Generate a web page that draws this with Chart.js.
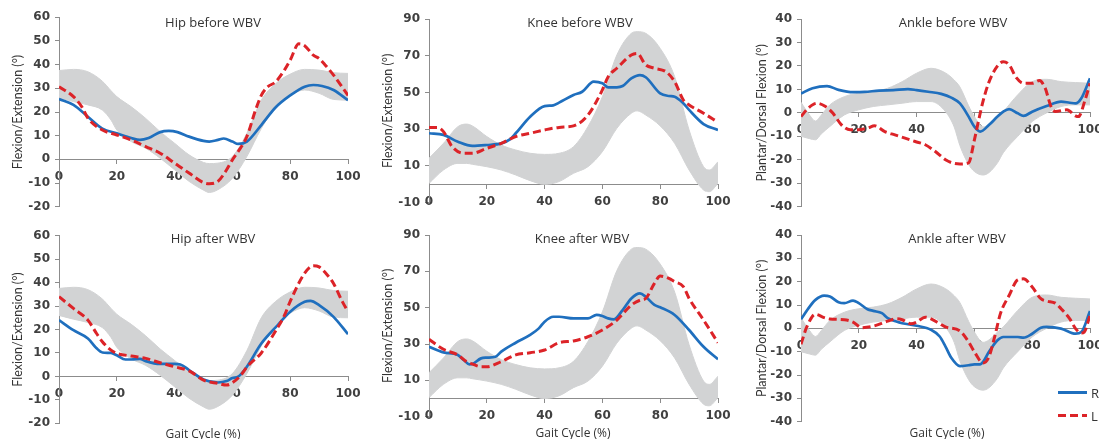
<!DOCTYPE html>
<html>
<head>
<meta charset="utf-8">
<script src="https://cdn.jsdelivr.net/npm/chart.js@4.4.1/dist/chart.umd.min.js"></script>
<style>
  html, body { margin: 0; padding: 0; background: #fff; width: 1099px; height: 439px; overflow: hidden; }
  body { position: relative; font-family: "Open Sans", sans-serif; color: #333; }
  canvas { position: absolute; }
  .lbl { position: absolute; white-space: nowrap; transform: translate(-50%, -50%); }
  .ttl { font-size: 13px; }
  .xt { font-size: 12px; }
  .leg { position: absolute; font-size: 13px; transform: translateY(-50%); }
</style>
</head>
<body>
<canvas id="hipBefore" width="370" height="220" style="left:0;top:0"></canvas>
<canvas id="kneeBefore" width="370" height="220" style="left:370px;top:0"></canvas>
<canvas id="ankleBefore" width="390" height="220" style="left:740px;top:0"></canvas>
<canvas id="hipAfter" width="370" height="219" style="left:0;top:220px"></canvas>
<canvas id="kneeAfter" width="370" height="219" style="left:370px;top:220px"></canvas>
<canvas id="ankleAfter" width="390" height="219" style="left:740px;top:220px"></canvas>

<div class="lbl ttl" style="left:213px;top:22px">Hip before WBV</div>
<div class="lbl ttl" style="left:580px;top:22px">Knee before WBV</div>
<div class="lbl ttl" style="left:953px;top:22px">Ankle before WBV</div>
<div class="lbl ttl" style="left:213px;top:238px">Hip after WBV</div>
<div class="lbl ttl" style="left:582px;top:238px">Knee after WBV</div>
<div class="lbl ttl" style="left:957px;top:238px">Ankle after WBV</div>
<div class="lbl xt" style="left:203px;top:433px">Gait Cycle (%)</div>
<div class="lbl xt" style="left:573px;top:432px">Gait Cycle (%)</div>
<div class="lbl xt" style="left:947px;top:432px">Gait Cycle (%)</div>

<svg style="position:absolute;left:1056px;top:385px" width="34" height="40">
  <line x1="2" y1="7.5" x2="31" y2="7.5" stroke="#1f6fbe" stroke-width="3"/>
  <line x1="2" y1="30.5" x2="31" y2="30.5" stroke="#dc2328" stroke-width="3" stroke-dasharray="8,4"/>
</svg>
<div class="leg" style="left:1091px;top:393px">R</div>
<div class="leg" style="left:1091px;top:416px">L</div>

<script>
// eixos: [min, max, passo]
const hipRange = [-20, 60, 10];
const kneeRange = [-10, 90, 20];
const ankleRange = [-40, 40, 10];
const cycleTicks = [0, 100, 20];

// faixa de normalidade (cinza)
const hipBandX = [0, 5, 10, 15, 18, 20, 25, 30, 35, 40, 45, 50, 52, 55, 60, 65, 70, 75, 80, 85, 90, 95, 100];
const hipBandUp = [37.5, 38, 37, 33, 29, 26.5, 22.2, 17.3, 11.7, 6.8, 1.9, -1.3, -1.8, -1.6, 1.2, 11, 25, 32, 36, 38, 37.7, 36.6, 36.3];
const hipBandLo = [26, 24.4, 23, 20.8, 16.6, 12.4, 7.5, 4.7, 0.5, -4.4, -9.3, -13, -14, -12.8, -8, 1.2, 13, 22.2, 27, 29.3, 27.9, 25.3, 25];

const kneeBandX = [0, 5, 10, 13, 15, 20, 25, 30, 35, 40, 45, 50, 55, 60, 65, 70, 72, 75, 80, 85, 90, 95, 97, 100];
const kneeBandUp = [14.2, 22.3, 31.4, 32.8, 31.8, 26, 21.4, 18.7, 16.9, 16.3, 16.9, 20.5, 31.4, 47.7, 70.4, 82.2, 83.1, 82.2, 74, 58.6, 29.6, 9.6, 7.8, 12.3];
const kneeBandLo = [0.5, 7.8, 11.4, 11.4, 10.9, 9.6, 7.8, 5.1, 2, 0, 1.5, 6, 9.6, 17.8, 30.5, 38.7, 40, 37.7, 31.8, 22.3, 7.8, -3.1, -4, 0.5];

const ankleBandX = [0, 3, 5, 7, 10, 15, 20, 25, 30, 35, 40, 45, 50, 53, 55, 58, 60, 63, 65, 68, 70, 75, 80, 85, 90, 95, 100];
const ankleBandUp = [4.5, -1, -3.5, -1, 3.4, 6.9, 8.4, 9.1, 10.5, 13.3, 16.9, 19, 17, 14, 11, 3, -1.6, -6, -5, -1.6, 0.6, 7.7, 13.3, 14.3, 13.3, 12.9, 12.6];
const ankleBandLo = [-10, -11, -11.5, -9, -5.8, -0.9, 1.3, 2.7, 3.4, 4.1, 4.8, 4.8, 0.5, -6, -14, -22, -25, -26.5, -25.5, -21.3, -17, -10, -3.7, 0, 2.7, 3.4, 3.4];

// curvas [ciclo %, graus]
const hipBeforeR = [[0, 25.5], [5, 23], [10, 18], [15, 13], [20, 11], [25, 9], [28, 8.2], [31, 9], [35, 11.5], [38, 12], [41, 11.5], [45, 9.6], [50, 7.8], [52, 7.5], [55, 8.2], [57, 8.8], [60, 7.5], [62, 6.5], [65, 7.5], [70, 14.5], [75, 22], [80, 27], [85, 30.7], [88, 31.4], [91, 31], [95, 29.3], [100, 25]];
const hipBeforeL = [[0, 30.7], [5, 26.5], [8, 22], [10, 17.4], [15, 12.4], [20, 10.3], [25, 8.2], [30, 5.4], [35, 2.6], [40, -1.6], [45, -5.8], [50, -9.8], [52, -10.3], [55, -9.3], [58, -4.4], [60, -0.2], [62, 3.3], [65, 9.6], [68, 20.8], [70, 27], [72, 30.4], [75, 32.8], [78, 37.7], [80, 41.9], [83, 48.8], [85, 48], [88, 44], [90, 42.6], [92, 40], [95, 35.6], [100, 27]];
const hipAfterR = [[0, 24], [5, 19.7], [10, 16.2], [13, 12], [15, 10.2], [18, 10], [20, 9], [23, 7.2], [25, 7.2], [28, 7.5], [30, 6.5], [35, 5.3], [40, 5.3], [42, 5.1], [45, 2.7], [50, -1.3], [55, -2.6], [58, -2], [60, -0.7], [62, -0.1], [65, 4.1], [70, 14], [75, 21], [80, 27.6], [85, 31.8], [87, 32.2], [90, 30.4], [95, 25.4], [100, 18]];
const hipAfterL = [[0, 34], [5, 29], [10, 24], [13, 18.3], [15, 14.8], [18, 11.2], [20, 9.8], [25, 8.7], [30, 7.7], [35, 5.8], [40, 4.1], [45, 2.4], [50, -1.6], [55, -3], [58, -3.7], [60, -2.7], [63, 0.6], [65, 4], [70, 10], [75, 19.5], [78, 26], [80, 32], [85, 44], [88, 47.2], [90, 46.7], [93, 43], [95, 39.6], [98, 32], [100, 27.6]];

const kneeBeforeR = [[0, 27.8], [5, 26.9], [10, 23.2], [15, 20.9], [20, 21.4], [25, 22.3], [28, 24.5], [30, 27.8], [35, 36.8], [40, 42.6], [43, 43], [45, 44.5], [50, 48.6], [53, 50.4], [57, 55.9], [60, 55], [62, 52.8], [65, 52.8], [67, 53.5], [70, 57.7], [73, 59.5], [75, 58.3], [80, 49.5], [83, 48.1], [85, 47.7], [88, 44.1], [90, 40.5], [95, 32.8], [100, 29.6]];
const kneeBeforeL = [[0, 30.9], [3, 30.9], [5, 28.7], [8, 20.5], [12, 16.9], [15, 16.9], [20, 19.6], [25, 22.3], [30, 26], [35, 27.8], [40, 29.6], [45, 31], [50, 31.8], [55, 37.7], [60, 51.4], [62, 58.6], [65, 63.2], [70, 70.4], [72, 71.3], [75, 65], [78, 63.2], [82, 61.3], [85, 55.9], [88, 45.9], [90, 43.2], [95, 38.7], [100, 33.8]];
const kneeAfterR = [[0, 28.5], [5, 25.4], [10, 24], [12, 21.2], [14, 18.8], [15, 19], [18, 22.1], [20, 22.5], [23, 23], [25, 25.8], [30, 30.7], [35, 35], [38, 38.6], [40, 42.3], [43, 45], [45, 45], [50, 44.1], [55, 44.1], [58, 46], [60, 45.4], [62, 44.1], [64, 43.6], [67, 48.7], [70, 55.1], [73, 57.9], [75, 56], [78, 51.5], [80, 50.2], [85, 46], [90, 37.7], [95, 28.5], [100, 21.6]];
const kneeAfterL = [[0, 32.6], [5, 27.1], [10, 24], [13, 20.3], [15, 19], [18, 17.5], [20, 17.5], [25, 20.3], [30, 24], [35, 25.2], [40, 26.7], [45, 30.7], [50, 31.7], [55, 34], [60, 37.7], [65, 43.2], [70, 51.4], [73, 54.1], [75, 55.1], [78, 63.4], [80, 67.4], [83, 66.1], [85, 64.3], [88, 61.6], [90, 55.1], [95, 43.2], [100, 30.7]];

const ankleBeforeR = [[0, 8.2], [4, 10.5], [9, 11.4], [13, 9.8], [18, 8.8], [22, 8.9], [27, 9.5], [32, 9.7], [37, 10.1], [40, 9.7], [44, 9], [48.5, 8.1], [52, 6.5], [55, 4], [58, -1.6], [60, -5.9], [62, -8], [65, -5.2], [68, -1.6], [70, 0.5], [72, 1.6], [75, -0.2], [77, -1.3], [80, 0.5], [85, 2.9], [90, 4.8], [93, 4.3], [95, 4], [97, 6.2], [100, 14.7]];
const ankleBeforeL = [[0, -1.6], [2.5, 2], [5.5, 4.1], [8.5, 2.7], [11, -0.1], [14, -5.1], [17, -7.2], [20, -7.2], [23, -6.5], [25.5, -5.5], [29, -8], [32.5, -9.4], [36, -10.8], [39.5, -12.2], [43, -13.6], [46.5, -16.5], [50, -20], [52.5, -21.4], [55, -21.8], [58, -21.3], [60, -11.5], [61.5, -3], [63, 5], [65, 13], [68, 20], [70, 21.8], [72, 20.5], [74.5, 15], [77, 12.6], [80, 12.6], [82.5, 13.8], [84.5, 10.5], [86.5, 2.7], [88, 0.6], [92, 1.3], [95, -1.3], [96, -1.6], [98.3, 5.5], [100, 12.6]];
const ankleAfterR = [[0, 3.9], [3, 9.3], [5, 12.2], [8, 14], [10, 13.6], [13, 11.2], [15, 10.8], [18, 11.9], [20, 10.8], [23, 8.2], [25, 7.5], [28, 6.5], [30, 4.4], [33, 2.9], [35, 2.2], [40, 1.1], [45, -0.6], [48, -3.5], [50, -7.8], [52, -12.6], [55, -16.2], [58, -15.8], [60, -15.4], [62, -15.4], [63, -14.4], [65, -10.1], [68, -5.1], [70, -3.7], [75, -3.7], [77, -4], [80, -2.3], [83, 0.3], [85, 0.6], [90, -0.1], [95, -2.3], [97, -1.6], [100, 7.4]];
const ankleAfterL = [[0, -6.8], [2, 0.6], [5, 6], [8, 4.6], [10, 4], [15, 3.7], [18, 2.7], [21, 0.3], [25, 0.9], [30, 3.1], [33, 4.1], [35, 3.7], [38, 2], [40, 2.7], [43, 4.8], [45, 4.1], [48, 2], [50, 0.6], [55, -1.1], [58, -5.8], [60, -10.1], [63, -14.8], [65, -12.3], [67, -3.7], [69, 6.3], [72, 14.1], [75, 20.8], [77, 21.2], [80, 17.7], [83, 12.7], [85, 11.7], [88, 10.8], [90, 8.4], [93, 4.1], [95, -0.1], [97, -2], [98, -1.6], [100, 5.6]];

const BLUE = '#1f6fbe';
const RED = '#dc2328';
const GRAY = '#d2d3d4';
const AXIS = '#8c8c8c';
const tickFont = { family: 'DejaVu Sans', size: 12, weight: 'bold' };

const toXY = pts => pts.map(p => ({ x: p[0], y: p[1] }));
const bandXY = (xs, ys) => xs.map((x, i) => ({ x: x, y: ys[i] }));

function desenha(id, range, band, right, left, yTitle, yWidth, titlePad, pad) {
  new Chart(document.getElementById(id), {
    type: 'line',
    data: {
      datasets: [
        { label: 'L', data: toXY(left), borderColor: RED, borderWidth: 3, borderDash: [8, 4], fill: false },
        { label: 'R', data: toXY(right), borderColor: BLUE, borderWidth: 2.7, fill: false },
        { label: 'upper', data: bandXY(band[0], band[1]), borderColor: GRAY, borderWidth: 1, backgroundColor: GRAY, fill: '+1' },
        { label: 'lower', data: bandXY(band[0], band[2]), borderColor: GRAY, borderWidth: 1, fill: false }
      ]
    },
    options: {
      responsive: false,
      animation: false,
      layout: { padding: pad },
      elements: { point: { radius: 0 }, line: { cubicInterpolationMode: 'monotone' } },
      plugins: { legend: { display: false }, tooltip: { enabled: false } },
      scales: {
        x: {
          type: 'linear',
          position: { y: 0 },
          min: cycleTicks[0], max: cycleTicks[1],
          ticks: { stepSize: cycleTicks[2], padding: 6, font: tickFont, color: '#404040' },
          grid: { drawOnChartArea: false, tickLength: 4, color: AXIS },
          border: { color: AXIS },
          afterFit: s => { s.height = 0; }
        },
        y: {
          min: range[0], max: range[1],
          ticks: { stepSize: range[2], padding: 5, font: tickFont, color: '#404040' },
          grid: { drawOnChartArea: false, tickLength: 4, color: AXIS },
          border: { color: AXIS },
          title: { display: true, text: yTitle, color: '#333', font: { family: 'Lato', size: 12.5 }, padding: { top: titlePad, bottom: 0 } },
          afterFit: s => { s.width = yWidth; }
        }
      }
    }
  });
}

const hipBand = [hipBandX, hipBandUp, hipBandLo];
const kneeBand = [kneeBandX, kneeBandUp, kneeBandLo];
const ankleBand = [ankleBandX, ankleBandUp, ankleBandLo];
const flexTitle = 'Flexion/Extension (°)';
const ankleTitle = 'Plantar/Dorsal Flexion (°)';

desenha('hipBefore', hipRange, hipBand, hipBeforeR, hipBeforeL, flexTitle, 59, 10, { left: 0, top: 17.3, right: 22, bottom: 13.3 });
desenha('kneeBefore', kneeRange, kneeBand, kneeBeforeR, kneeBeforeL, flexTitle, 59, 10, { left: 0, top: 19, right: 22, bottom: 17.3 });
desenha('ankleBefore', ankleRange, ankleBand, ankleBeforeR, ankleBeforeL, ankleTitle, 61, 14, { left: 0, top: 19, right: 40, bottom: 13.3 });
desenha('hipAfter', hipRange, hipBand, hipAfterR, hipAfterL, flexTitle, 59, 10, { left: 0, top: 15.7, right: 22, bottom: 15.7 });
desenha('kneeAfter', kneeRange, kneeBand, kneeAfterR, kneeAfterL, flexTitle, 59, 10, { left: 0, top: 15, right: 22, bottom: 22.3 });
desenha('ankleAfter', ankleRange, ankleBand, ankleAfterR, ankleAfterL, ankleTitle, 61, 14, { left: 0, top: 15, right: 40, bottom: 17.3 });
</script>
</body>
</html>
